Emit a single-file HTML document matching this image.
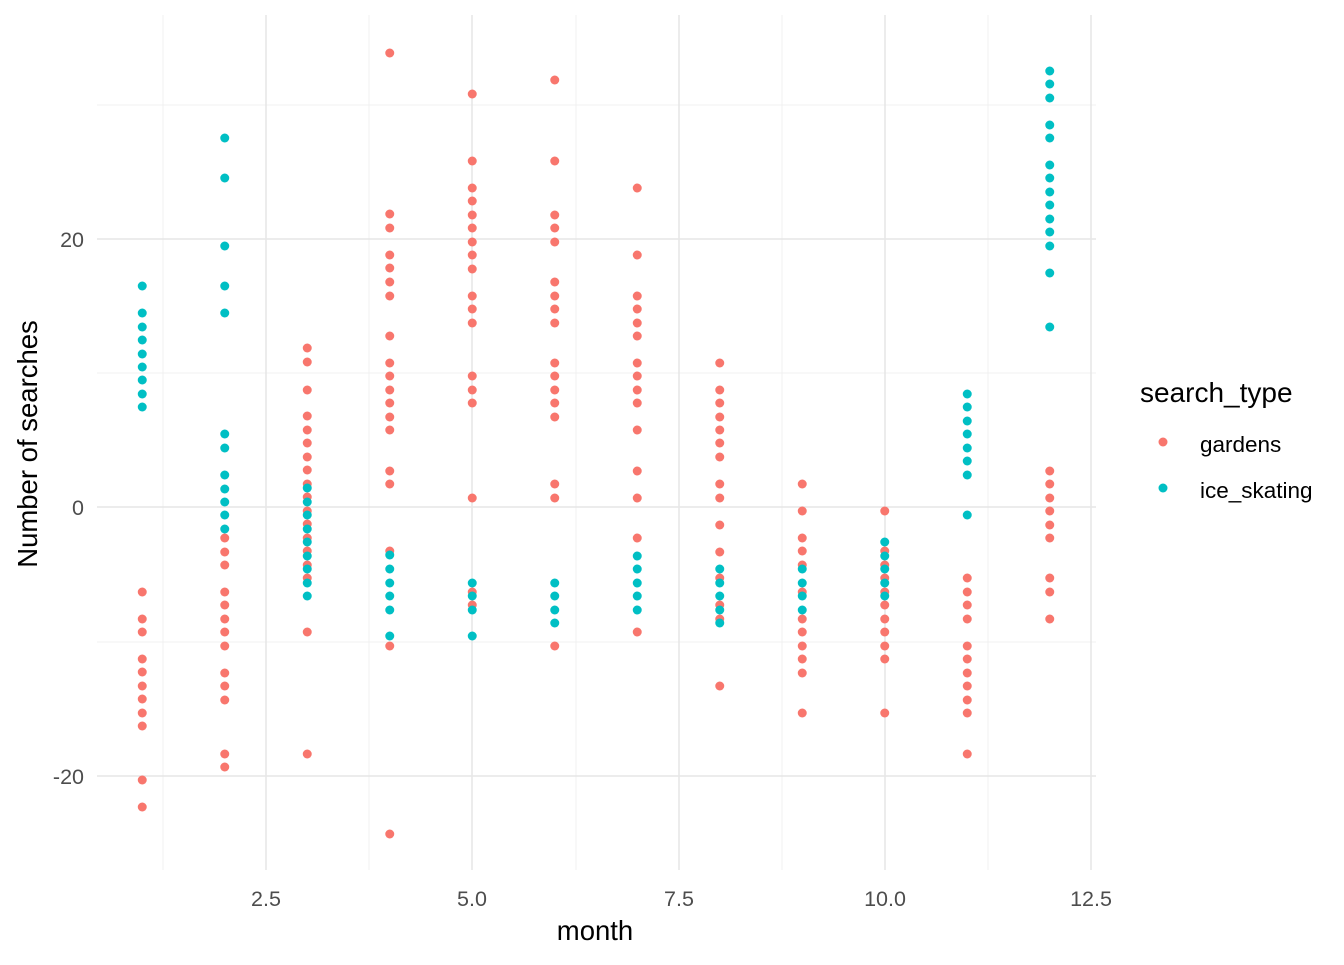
<!DOCTYPE html>
<html><head><meta charset="utf-8"><style>
body{margin:0;background:#fff}
text{font-family:"Liberation Sans",sans-serif}
</style></head><body>
<svg id="s" width="1344" height="960" xmlns="http://www.w3.org/2000/svg">
<rect width="1344" height="960" fill="#fff"/>
<g stroke="#f0f0f0" stroke-width="1">
<line x1="163" y1="15" x2="163" y2="870"/><line x1="369" y1="15" x2="369" y2="870"/><line x1="576" y1="15" x2="576" y2="870"/><line x1="782" y1="15" x2="782" y2="870"/><line x1="988" y1="15" x2="988" y2="870"/>
<line x1="97" y1="105" x2="1096" y2="105"/><line x1="97" y1="373" x2="1096" y2="373"/><line x1="97" y1="642" x2="1096" y2="642"/>
</g>
<g stroke="#e6e6e6" stroke-width="1.5">
<line x1="266" y1="15" x2="266" y2="870"/><line x1="472" y1="15" x2="472" y2="870"/><line x1="679" y1="15" x2="679" y2="870"/><line x1="885" y1="15" x2="885" y2="870"/><line x1="1091" y1="15" x2="1091" y2="870"/>
<line x1="97" y1="239" x2="1096" y2="239"/><line x1="97" y1="507" x2="1096" y2="507"/><line x1="97" y1="776" x2="1096" y2="776"/>
</g>
<g id="pts"></g>
<g font-size="21.5" fill="#4d4d4d" text-anchor="middle">
<text x="266" y="906">2.5</text><text x="472" y="906">5.0</text><text x="679" y="906">7.5</text><text x="885" y="906">10.0</text><text x="1091" y="906">12.5</text>
</g>
<g font-size="21.5" fill="#4d4d4d" text-anchor="end">
<text x="84" y="247">20</text><text x="84" y="515">0</text><text x="84" y="784">-20</text>
</g>
<text x="595" y="940" font-size="27.5" text-anchor="middle">month</text>
<text transform="translate(37,444) rotate(-90)" font-size="27.5" text-anchor="middle">Number of searches</text>
<text x="1140" y="402" font-size="28">search_type</text>
<circle cx="1163" cy="442" r="4.5" fill="#F8766D"/><circle cx="1163" cy="488" r="4.5" fill="#00BFC4"/>
<text x="1200" y="452" font-size="22.5">gardens</text>
<text x="1200" y="498" font-size="22.5">ice_skating</text>
</svg>
<script>
var d={1:[[286,313,327,340,354,367,380,394,407],[592,619,632,659,672,686,699,713,726,780,807]],
2:[[138,178,246,286,313,434,448,475,489,502,515,529],[538,552,565,592,605,619,632,646,673,686,700,754,767]],
3:[[488,502,515,529,542,556,569,583,596],[348,362,390,416,430,443,457,470,484,497,511,524,538,551,565,578,632,754]],
4:[[555,569,583,596,610,636],[53,214,228,255,268,282,296,336,363,376,390,403,417,430,471,484,551,646,834]],
5:[[583,596,610,636],[94,161,188,201,215,228,242,255,269,296,309,323,376,390,403,498,592,605]],
6:[[583,596,610,623],[80,161,215,228,242,282,296,309,323,363,376,390,403,417,484,498,646]],
7:[[556,569,583,596,610],[188,255,296,309,323,336,363,376,390,403,430,471,498,538,632]],
8:[[569,583,596,610,623],[363,390,403,417,430,443,457,484,498,525,552,578,605,619,686]],
9:[[569,583,596,610],[484,511,538,551,565,592,619,632,646,659,673,713]],
10:[[542,556,569,583,596],[511,551,565,578,592,605,619,632,646,659,713]],
11:[[394,407,421,434,448,461,475,515],[578,592,605,619,646,659,673,686,700,713,754]],
12:[[71,84,98,125,138,165,178,192,205,219,232,246,273,327],[471,484,498,511,525,538,578,592,619]]};
var g=document.getElementById('pts'),h='';
for(var m in d){var x=266+(m-2.5)*82.5;
d[m][1].forEach(function(y){h+='<circle cx="'+x+'" cy="'+y+'" r="4.5" fill="#F8766D"/>';});
d[m][0].forEach(function(y){h+='<circle cx="'+x+'" cy="'+y+'" r="4.5" fill="#00BFC4"/>';});}
g.innerHTML=h;
</script>
</body></html>
